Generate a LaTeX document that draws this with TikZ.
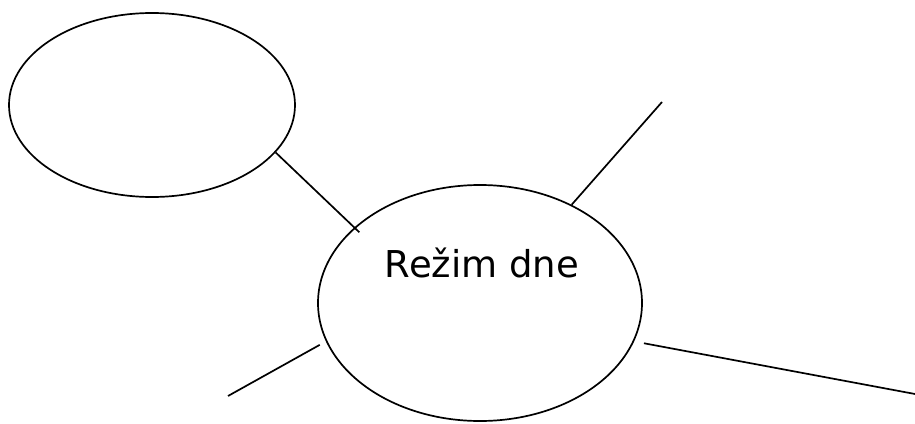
\documentclass[tikz,border=0pt]{standalone}
\usepackage{fontspec}
\usepackage{tikz}
\usetikzlibrary{shapes.geometric}
\newfontfamily\handfont{DejaVu Sans}

\begin{document}
\begin{tikzpicture}[x=1pt, y=-1pt, line width=1.7pt,
    bubble/.style={draw, ellipse, inner sep=0pt}]
    %%Background
    \useasboundingbox (0,0) rectangle (915,423);

    %% Bubbles
    \node[bubble, minimum width=286pt, minimum height=184pt] (side) at (152,105) {};
    \node[bubble, minimum width=324pt, minimum height=236pt] (day) at (480,303) {};
    \node[font=\handfont\fontsize{37}{40}\selectfont] (title) at (482,263) {Režim dne};

    %% Free ends
    \coordinate (upright) at (662,102);
    \coordinate (downright) at (915,394);
    \coordinate (downleft) at (228,396);

    %% Spokes
    \draw[shorten >=-7pt] (side.-21) to (day.149);
    \draw (day.47) to (upright);
    \draw[shorten <=10pt] (day.-14) to (downright);
    \draw[shorten <=7pt] (day.194) to (downleft);
\end{tikzpicture}
\end{document}
